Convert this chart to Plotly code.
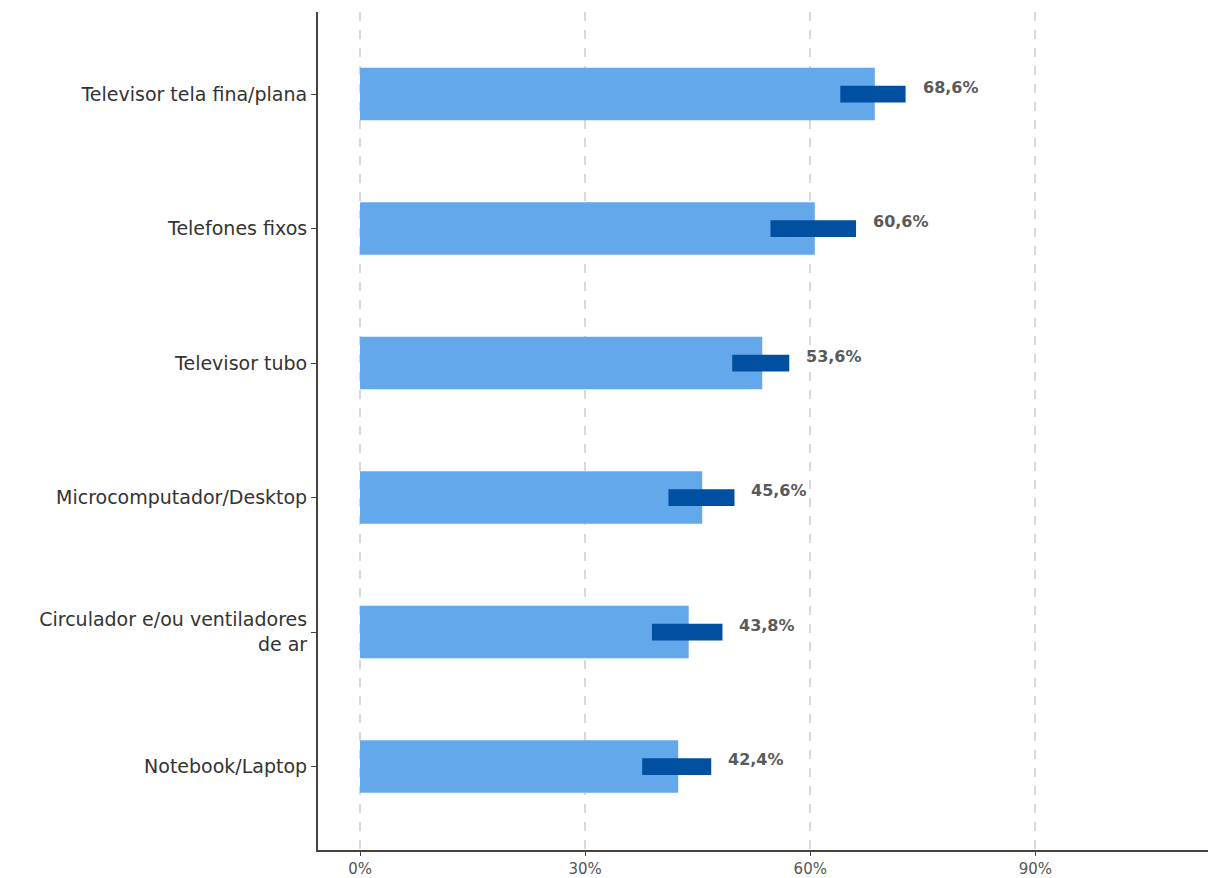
import plotly.graph_objects as go

categories = ["Televisor tela fina/plana", "Telefones fixos", "Televisor tubo",
              "Microcomputador/Desktop", "Circulador e/ou ventiladores<br>de ar", "Notebook/Laptop"]
values = [68.6, 60.6, 53.6, 45.6, 43.8, 42.4]
ci_low = [64.0, 54.7, 49.6, 41.1, 38.9, 37.6]
ci_high = [72.7, 66.1, 57.2, 49.9, 48.3, 46.8]
labels = ["68,6%", "60,6%", "53,6%", "45,6%", "43,8%", "42,4%"]
tick_vals = [0, 30, 60, 90]
tick_text = ["0%", "30%", "60%", "90%"]

FONT = "DejaVu Sans"

fig = go.Figure()
fig.add_trace(go.Bar(y=categories, x=values, orientation="h", width=0.39,
                     marker=dict(color="#64A8EC", line=dict(width=0)), hoverinfo="skip"))
fig.add_trace(go.Bar(y=categories, x=[h - l for h, l in zip(ci_high, ci_low)], base=ci_low,
                     orientation="h", width=0.125,
                     marker=dict(color="#004FA0", line=dict(width=0)), hoverinfo="skip"))

for c, h, t in zip(categories, ci_high, labels):
    fig.add_annotation(x=h, y=c, text="<b>" + t + "</b>", showarrow=False, xanchor="left",
                       xshift=15, yshift=7, font=dict(family=FONT, size=16, color="#5a5a5a"))

fig.update_layout(
    width=1211, height=878, barmode="overlay", showlegend=False,
    plot_bgcolor="white", paper_bgcolor="white",
    margin=dict(l=318, r=3, t=12, b=28),
    font=dict(family=FONT, size=19, color="#333333"),
    xaxis=dict(range=[-5.6, 113], tickvals=tick_vals, ticktext=tick_text, automargin=False,
               showgrid=True, gridcolor="#d9d9d9", griddash="dash", gridwidth=1.5,
               zeroline=False, showline=True, linecolor="#4a423c", linewidth=2,
               ticks="outside", ticklen=4, tickcolor="#4a423c",
               tickfont=dict(family=FONT, size=15, color="#555555")),
    yaxis=dict(range=[5.62, -0.61], showgrid=False, zeroline=False, automargin=False,
               showline=True, linecolor="#4a423c", linewidth=2,
               ticks="outside", ticklen=5, tickcolor="#4a423c",
               tickfont=dict(family=FONT, size=19, color="#333333")),
)

fig.write_html("out.html", config={"displayModeBar": False},
               post_script="document.body.style.margin='0';document.body.style.padding='0';")
